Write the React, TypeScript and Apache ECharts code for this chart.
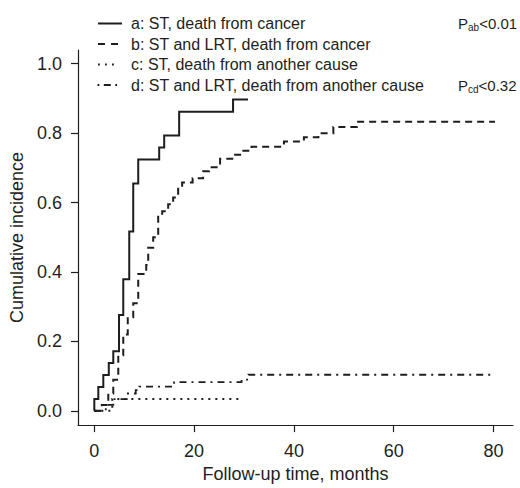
import React, { useEffect, useRef } from "react";
import * as echarts from "echarts";

// a: ST, death from cancer
const seriesA: [number, number][] = [
  [0, 0], [0, 0.0345], [0.8, 0.069], [1.8, 0.103], [2.9, 0.138], [3.8, 0.172],
  [4.95, 0.276], [5.8, 0.379], [7.0, 0.517], [7.8, 0.655], [8.8, 0.724],
  [13.0, 0.759], [14.0, 0.793], [17.0, 0.862], [27.8, 0.897], [30.8, 0.897],
];
// b: ST and LRT, death from cancer
const seriesB: [number, number][] = [
  [0, 0], [1.5, 0.017], [2.8, 0.05], [3.8, 0.09], [4.8, 0.16], [5.8, 0.22],
  [6.7, 0.27], [7.8, 0.31], [8.8, 0.394], [10.4, 0.42], [10.8, 0.47],
  [11.8, 0.5], [12.8, 0.563], [13.6, 0.575], [14.8, 0.595], [15.8, 0.615],
  [16.8, 0.64], [17.6, 0.658], [19.7, 0.67], [21.8, 0.69], [23.0, 0.702],
  [25.2, 0.726], [28.0, 0.738], [29.5, 0.749], [31.5, 0.761], [38.0, 0.776],
  [42.0, 0.788], [44.9, 0.8], [47.9, 0.818], [52.6, 0.833], [80.3, 0.833],
];
// c: ST, death from another cause
const seriesC: [number, number][] = [[0, 0], [3.6, 0.0345], [29.5, 0.0345]];
// d: ST and LRT, death from another cause
const seriesD: [number, number][] = [
  [0, 0], [2.3, 0.017], [3.8, 0.034], [6.5, 0.05], [8.3, 0.06], [9.0, 0.07],
  [16.0, 0.083], [29.5, 0.09], [30.9, 0.104], [80.3, 0.104],
];

const xTicks = [0, 20, 40, 60, 80];
const yTicks = [0, 0.2, 0.4, 0.6, 0.8, 1.0];
const legendLabels = [
  "a: ST, death from cancer",
  "b: ST and LRT, death from cancer",
  "c: ST, death from another cause",
  "d: ST and LRT, death from another cause",
];
const pSubs = ["ab", "cd"];
const pValues = ["<0.01", "<0.32"];
const xName = "Follow-up time, months";
const yName = "Cumulative incidence";

const FONT = "'Liberation Sans', Arial, Helvetica, sans-serif";
const INK = "#1e1e1e";
const TXT = "#231f20";

const dashes: (number[] | "solid")[] = ["solid", [7, 5], [2, 5], [7, 5, 2, 5]];
const widths = [2, 2, 2, 1.8];

export default function App() {
  const ref = useRef<HTMLDivElement>(null);
  useEffect(() => {
    const chart = echarts.init(ref.current!, null, { renderer: "svg" });
    const datasets = [seriesA, seriesB, seriesC, seriesD];
    const rowsY = [23.5, 44, 64.5, 85];
    const legendIcons: any[] = [];
    legendIcons.push({ type: "line", shape: { x1: 98, y1: rowsY[0], x2: 122, y2: rowsY[0] }, style: { stroke: INK, lineWidth: 2 } });
    legendIcons.push({ type: "line", shape: { x1: 98, y1: rowsY[1], x2: 120, y2: rowsY[1] }, style: { stroke: INK, lineWidth: 2, lineDash: [7, 6] } });
    legendIcons.push({ type: "line", shape: { x1: 98, y1: rowsY[2], x2: 114, y2: rowsY[2] }, style: { stroke: INK, lineWidth: 1.8, lineDash: [1.8, 5.2] } });
    legendIcons.push({ type: "line", shape: { x1: 97.5, y1: rowsY[3], x2: 120, y2: rowsY[3] }, style: { stroke: INK, lineWidth: 1.8, lineDash: [1.8, 4.5, 7, 4.5] } });
    const legendTexts = legendLabels.map((t, i) => ({
      type: "text",
      x: 131,
      y: rowsY[i],
      style: { text: t, fontSize: 16, fontFamily: FONT, fill: TXT, align: "left", verticalAlign: "middle" },
    }));
    const pTexts = [0, 1].map((i) => ({
      type: "text",
      x: 458,
      y: rowsY[i === 0 ? 0 : 3],
      style: {
        text: `{p|P}{s|${pSubs[i]}}{p|${pValues[i]}}`,
        fontFamily: FONT,
        fill: TXT,
        align: "left",
        verticalAlign: "middle",
        rich: {
          p: { fontSize: 15, fontFamily: FONT, fill: TXT, lineHeight: 18 },
          s: { fontSize: 10, fontFamily: FONT, fill: TXT, verticalAlign: "bottom", lineHeight: 18, padding: [6, 0, 0, 0] },
        },
      },
    }));

    const option: any = {
      animation: false,
      backgroundColor: "#ffffff",
      grid: { left: 78, right: 7, top: 50, bottom: 56 },
      xAxis: {
        type: "value",
        min: -3.27,
        max: 83.9,
        name: xName,
        nameLocation: "middle",
        nameGap: 39,
        nameTextStyle: { fontSize: 18, fontFamily: FONT, color: TXT },
        axisLine: { show: true, onZero: false, lineStyle: { color: INK, width: 1.2 } },
        axisTick: { show: true, customValues: xTicks, length: 7, inside: false, lineStyle: { color: INK, width: 1.2 } },
        axisLabel: { customValues: xTicks, margin: 17, fontSize: 18, fontFamily: FONT, color: TXT },
        splitLine: { show: false },
      },
      yAxis: {
        type: "value",
        min: -0.041,
        max: 1.0396,
        name: yName,
        nameLocation: "middle",
        nameGap: 47,
        nameRotate: 90,
        nameTextStyle: { fontSize: 18, fontFamily: FONT, color: TXT },
        axisLine: { show: true, onZero: false, lineStyle: { color: INK, width: 1.2 } },
        axisTick: { show: true, customValues: yTicks, length: 7, inside: false, lineStyle: { color: INK, width: 1.2 } },
        axisLabel: {
          customValues: yTicks,
          margin: 16,
          fontSize: 18,
          fontFamily: FONT,
          color: TXT,
          formatter: (v: number) => v.toFixed(1),
        },
        splitLine: { show: false },
      },
      series: datasets.map((d, i) => ({
        type: "line",
        name: legendLabels[i],
        data: d,
        step: "end",
        showSymbol: false,
        symbol: "none",
        lineStyle: { color: INK, width: widths[i], type: dashes[i], cap: "butt", join: "miter" },
        z: 10 - i,
      })),
      graphic: [...legendIcons, ...legendTexts, ...pTexts],
    };
    chart.setOption(option);
    return () => chart.dispose();
  }, []);
  return (
    <div
      ref={ref}
      style={{ position: "fixed", left: 0, top: 0, width: 520, height: 488, background: "#fff" }}
    />
  );
}
